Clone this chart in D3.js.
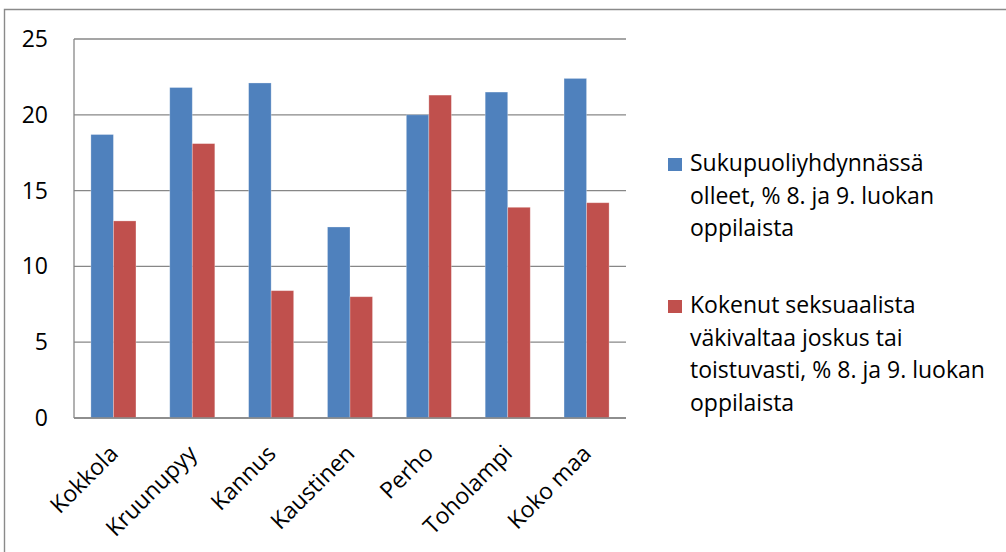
<!DOCTYPE html>
<html>
<head>
<meta charset="utf-8">
<script src="https://cdn.jsdelivr.net/npm/d3@7"></script>
<style>
  html, body { margin: 0; padding: 0; background: #fff; }
  svg { display: block; }
  text { font-family: "Open Sans", sans-serif; fill: #000; }
</style>
</head>
<body>
<svg id="chart" width="1006" height="552"></svg>
<script>
const categories = ["Kokkola", "Kruunupyy", "Kannus", "Kaustinen", "Perho", "Toholampi", "Koko maa"];
const seriesNames = [
  "Sukupuoliyhdynnässä olleet, % 8. ja 9. luokan oppilaista",
  "Kokenut seksuaalista väkivaltaa joskus tai toistuvasti, % 8. ja 9. luokan oppilaista"
];
const sukupuoliyhdynnassa = [18.7, 21.8, 22.1, 12.6, 20.0, 21.5, 22.4];
const vakivaltaa = [13.0, 18.1, 8.4, 8.0, 21.3, 13.9, 14.2];
const yTicks = [0, 5, 10, 15, 20, 25];
const legendLines = [
  ["Sukupuoliyhdynnässä", "olleet, % 8. ja 9. luokan", "oppilaista"],
  ["Kokenut seksuaalista", "väkivaltaa joskus tai", "toistuvasti, % 8. ja 9. luokan", "oppilaista"]
];
const colors = ["#4F81BD", "#C0504D"];

const svg = d3.select("#chart");
const plot = { left: 74, right: 626, top: 39, bottom: 418 };
const fontSize = 23;

// outer frame (top and left edges visible)
svg.append("path")
  .attr("d", "M4.5,1006 L4.5,9.5 L1006,9.5")
  .attr("fill", "none").attr("stroke", "#8a8a8a").attr("stroke-width", 1.4);

const y = d3.scaleLinear().domain([0, 25]).range([plot.bottom, plot.top]);
const x0 = d3.scaleBand().domain(categories).range([plot.left, plot.right])
  .paddingInner(1.5 / 3.5).paddingOuter(0.75 / 3.5);
const x1 = d3.scaleBand().domain([0, 1]).range([0, x0.bandwidth()]);

// gridlines
svg.append("g").selectAll("line").data(yTicks).join("line")
  .attr("x1", plot.left).attr("x2", plot.right)
  .attr("y1", d => y(d)).attr("y2", d => y(d))
  .attr("stroke", "#878787").attr("stroke-width", 1.3);

// y axis line
svg.append("line")
  .attr("x1", plot.left).attr("x2", plot.left)
  .attr("y1", y(25)).attr("y2", y(0))
  .attr("stroke", "#878787").attr("stroke-width", 1.3);

// y labels
svg.append("g").selectAll("text").data(yTicks).join("text")
  .attr("x", 48).attr("y", d => y(d)).attr("dy", "0.35em")
  .attr("text-anchor", "end").attr("font-size", fontSize)
  .text(d => d);

// bars
const data = categories.map((c, i) => ({ cat: c, vals: [sukupuoliyhdynnassa[i], vakivaltaa[i]] }));
const groups = svg.append("g").selectAll("g").data(data).join("g")
  .attr("transform", d => `translate(${x0(d.cat)},0)`);
groups.selectAll("rect").data(d => d.vals.map((v, k) => ({ v, k }))).join("rect")
  .attr("x", d => x1(d.k)).attr("width", x1.bandwidth())
  .attr("y", d => y(d.v)).attr("height", d => y(0) - y(d.v))
  .attr("fill", d => colors[d.k])
  .attr("stroke", "rgba(255,255,255,0.35)").attr("stroke-width", 0.8);

// bottom axis line (over bars)
svg.append("line")
  .attr("x1", plot.left).attr("x2", plot.right)
  .attr("y1", y(0)).attr("y2", y(0))
  .attr("stroke", "#878787").attr("stroke-width", 1.3);

// x labels rotated
svg.append("g").selectAll("text").data(categories).join("text")
  .attr("transform", d => `translate(${x0(d) + x0.bandwidth() / 2 + 6},${y(0) + 37}) rotate(-45)`)
  .attr("text-anchor", "end").attr("font-size", fontSize)
  .text(d => d);

// legend
const legendTop = [171, 313];
const lineH = 32.5;
legendLines.forEach((lines, k) => {
  svg.append("rect")
    .attr("x", 668).attr("y", legendTop[k] - 13)
    .attr("width", 14).attr("height", 13)
    .attr("fill", colors[k]);
  const t = svg.append("text").attr("font-size", fontSize);
  lines.forEach((ln, j) => {
    t.append("tspan").attr("x", 690).attr("y", legendTop[k] + j * lineH).text(ln);
  });
});
</script>
</body>
</html>
